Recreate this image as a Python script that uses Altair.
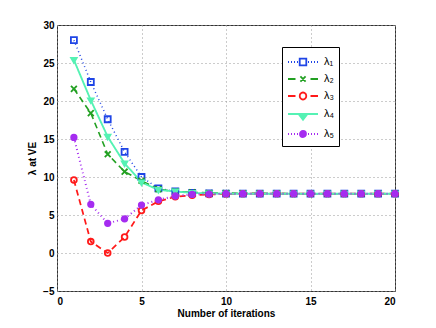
import altair as alt
import pandas as pd

iters = list(range(1, 21))
names = ["λ₁", "λ₂", "λ₃", "λ₄", "λ₅"]
lam1 = [28.0, 22.5, 17.6, 13.3, 10.0, 8.5, 8.1, 7.9, 7.85, 7.8, 7.8, 7.8, 7.8, 7.8, 7.8, 7.8, 7.8, 7.8, 7.8, 7.8]
lam2 = [21.6, 18.4, 13.0, 10.7, 9.5, 8.4, 8.1, 8.0, 7.9, 7.9, 7.85, 7.85, 7.85, 7.8, 7.8, 7.8, 7.8, 7.8, 7.8, 7.8]
lam3 = [9.6, 1.5, 0.0, 2.1, 5.6, 6.8, 7.4, 7.6, 7.7, 7.75, 7.8, 7.8, 7.8, 7.8, 7.8, 7.8, 7.8, 7.8, 7.8, 7.8]
lam4 = [25.4, 20.1, 15.3, 11.8, 9.3, 8.3, 8.1, 7.9, 7.85, 7.8, 7.8, 7.8, 7.8, 7.8, 7.8, 7.8, 7.8, 7.8, 7.8, 7.8]
lam5 = [15.2, 6.4, 3.9, 4.5, 6.3, 7.0, 7.5, 7.7, 7.75, 7.8, 7.8, 7.8, 7.8, 7.8, 7.8, 7.8, 7.8, 7.8, 7.8, 7.8]

colors = ["#1f45e6", "#22a022", "#ff1a1a", "#55f2b4", "#a52cf0"]
dashes = [[1, 3], [6, 4], [6, 4], [1, 0], [1, 3]]
widths = [1.5, 2, 2, 2.5, 1.5]
fills = ["transparent", "#22a022", "transparent", "#55f2b4", "#a52cf0"]

# plot markers
SQ = "M-1,-1H1V1H-1Z"
XM = "M-1,-1L1,1M-1,1L1,-1"
CI = "M1,0A1,1 0 1,1 -1,0A1,1 0 1,1 1,0Z"
TD = "M-1,-0.7L1,-0.7L0,1Z"
shapes = [SQ, XM, CI, TD, CI]
sizes = [36, 30, 64, 110, 45]


# legend symbols (line + marker), built from pixel offsets around the marker
U = 9.0      # symbol radius in px for symbolSize 324
SHIFT = 6.0  # marker offset from symbol centre


def f(v):
    return f"{v:.3f}"


def seg(x0, x1):
    return f"M{f((x0 + SHIFT) / U)},0H{f((x1 + SHIFT) / U)}"


def sq(h):
    a, b = (-h + SHIFT) / U, (h + SHIFT) / U
    t = h / U
    return f"M{f(a)},{f(-t)}H{f(b)}V{f(t)}H{f(a)}Z"


def xm(h):
    a, b = (-h + SHIFT) / U, (h + SHIFT) / U
    t = h / U
    return f"M{f(a)},{f(-t)}L{f(b)},{f(t)}M{f(a)},{f(t)}L{f(b)},{f(-t)}"


def ci(r):
    c = SHIFT / U
    rr = r / U
    return f"M{f(c + rr)},0A{f(rr)},{f(rr)} 0 1,1 {f(c - rr)},0A{f(rr)},{f(rr)} 0 1,1 {f(c + rr)},0Z"


def tri(h):
    a, b, c = (-h + SHIFT) / U, (h + SHIFT) / U, SHIFT / U
    return f"M{f(a)},0L{f(b)},0L{f(c)},{f(1.3 * h / U)}Z"


dots = "".join(seg(p, p + 1) for p in [-15, -12, -9, -6, 5, 8, 11, 14])
dsh = seg(-15, -7.5) + seg(7.5, 15)
leg_shapes = [
    dots + sq(3.3),
    dsh + xm(2.6),
    dsh + ci(3.3),
    seg(-15, 15) + tri(4.5),
    dots + ci(3.0),
]

rows = []
for n, vals in zip(names, [lam1, lam2, lam3, lam4, lam5]):
    for x, v in zip(iters, vals):
        rows.append({"series": n, "iter": x, "val": v})
df = pd.DataFrame(rows)

FONT = "Liberation Sans"
xs = alt.Scale(domain=[0, 20], nice=False)
ys = alt.Scale(domain=[-5, 30], nice=False)
xax = alt.Axis(values=[0, 5, 10, 15, 20], title="Number of iterations", grid=True,
               gridDash=[1, 3], gridColor="#999999", ticks=False, domain=False,
               labelFontWeight="bold", titleFontWeight="bold", labelPadding=5, titlePadding=2)
yax = alt.Axis(values=[-5, 0, 5, 10, 15, 20, 25, 30], title="λ at VE", grid=True,
               gridDash=[1, 3], gridColor="#999999", ticks=False, domain=False,
               labelFontWeight="bold", titleFontWeight="bold", labelPadding=3, titlePadding=5)

stroke_scale = alt.Scale(domain=names, range=colors)
fill_scale = alt.Scale(domain=names, range=fills)

base = alt.Chart(df).encode(
    x=alt.X("iter:Q", scale=xs, axis=xax),
    y=alt.Y("val:Q", scale=ys, axis=yax),
)

lines = base.mark_line().encode(
    stroke=alt.Stroke("series:N", scale=stroke_scale, legend=None),
    strokeDash=alt.StrokeDash("series:N", scale=alt.Scale(domain=names, range=dashes), legend=None),
    strokeWidth=alt.StrokeWidth("series:N", scale=alt.Scale(domain=names, range=widths), legend=None),
)

points = base.mark_point(strokeWidth=1.8, opacity=1).encode(
    shape=alt.Shape("series:N", scale=alt.Scale(domain=names, range=shapes), legend=None),
    size=alt.Size("series:N", scale=alt.Scale(domain=names, range=sizes), legend=None),
    stroke=alt.Stroke("series:N", scale=stroke_scale, legend=None),
    fill=alt.Fill("series:N", scale=fill_scale, legend=None),
)

leg = dict(title=None, orient="none", legendX=225, legendY=22, symbolSize=324,
           symbolStrokeWidth=1.8, symbolOpacity=1, labelFontSize=11, rowPadding=0,
           padding=5, labelOffset=17, strokeColor="black", fillColor="white")

legend_layer = alt.Chart(df[df["iter"] == 1]).mark_point(opacity=0).encode(
    x=alt.X("iter:Q", scale=xs, axis=xax),
    y=alt.Y("val:Q", scale=ys, axis=yax),
    shape=alt.Shape("series:N", scale=alt.Scale(domain=names, range=leg_shapes),
                    legend=alt.Legend(**leg)),
    stroke=alt.Stroke("series:N", scale=stroke_scale, legend=alt.Legend(**leg)),
    fill=alt.Fill("series:N", scale=fill_scale, legend=alt.Legend(**leg)),
)

chart = alt.layer(lines, points, legend_layer).resolve_scale(
    shape="independent"
).resolve_legend(
    stroke="independent", shape="independent", fill="independent"
).properties(
    width=338, height=266,
    autosize=alt.AutoSizeParams(type="none"),
    padding={"left": 49, "top": 17, "right": 33, "bottom": 29},
).configure(font=FONT).configure_view(stroke="#333333", strokeWidth=1).configure_axis(
    labelFontSize=10, titleFontSize=10, labelColor="black", titleColor="black"
)

chart.save("out.html", embed_options={"renderer": "svg", "actions": False})
